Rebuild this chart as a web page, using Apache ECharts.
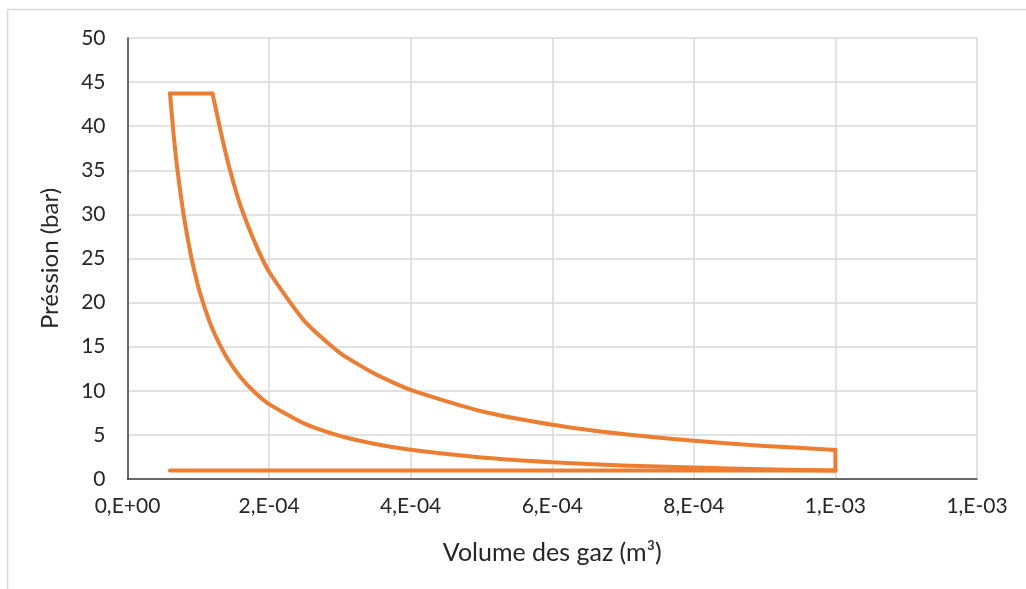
<!DOCTYPE html>
<html>
<head>
<meta charset="utf-8">
<script src="https://cdn.jsdelivr.net/npm/echarts@6/dist/echarts.min.js"></script>
<style>
html,body{margin:0;padding:0;background:#fff;}
#chart{width:1026px;height:589px;}
</style>
</head>
<body>
<div id="chart"></div>
<script>
// Intake / exhaust line (m³, bar)
const lowLineVolume = [6.0e-5, 1.0e-3];
const lowLinePressure = [0.95, 0.95];
// Compression curve, from bottom dead centre to top dead centre
const compVolume = [1.0e-3, 9e-4, 8e-4, 7e-4, 6e-4, 5e-4, 4e-4, 3.5e-4, 3e-4, 2.5e-4, 2e-4, 1.8e-4, 1.6e-4, 1.4e-4, 1.2e-4, 1.1e-4, 1.0e-4, 9e-5, 8e-5, 7e-5, 6.5e-5, 6.0e-5];
const compPressure = [0.95, 1.10, 1.29, 1.54, 1.90, 2.44, 3.31, 3.97, 4.89, 6.27, 8.49, 9.80, 11.5, 13.8, 17.0, 19.2, 21.8, 25.2, 29.6, 35.4, 39.2, 43.7];
// Combustion at constant pressure
const topVolume = [6.0e-5, 1.2e-4];
const topPressure = [43.7, 43.7];
// Expansion curve
const expVolume = [1.2e-4, 1.25e-4, 1.3e-4, 1.4e-4, 1.5e-4, 1.6e-4, 1.8e-4, 2e-4, 2.5e-4, 3e-4, 3.5e-4, 4e-4, 5e-4, 6e-4, 7e-4, 8e-4, 9e-4, 1.0e-3];
const expPressure = [43.7, 41.9, 40.0, 36.5, 33.5, 30.9, 26.8, 23.5, 17.9, 14.3, 11.9, 10.1, 7.68, 6.15, 5.09, 4.33, 3.75, 3.3];
// Exhaust blow-down at bottom dead centre
const blowVolume = [1.0e-3, 1.0e-3];
const blowPressure = [3.3, 0.95];

const xTickLabels = ['0,E+00', '2,E-04', '4,E-04', '6,E-04', '8,E-04', '1,E-03', '1,E-03'];
const yTickLabels = ['0', '5', '10', '15', '20', '25', '30', '35', '40', '45', '50'];

function pairs(xs, ys) { return xs.map((v, i) => [v, ys[i]]); }

const font = 'Lato, "Open Sans", sans-serif';
const lineStyle = {color: '#ED7D31', width: 4, cap: 'round', join: 'round'};
function seg(data, smooth) {
  return {type: 'line', data: data, showSymbol: false, smooth: smooth,
          lineStyle: lineStyle, clip: false, color: '#ED7D31'};
}

const chart = echarts.init(document.getElementById('chart'), null, {renderer: 'canvas'});
chart.setOption({
  backgroundColor: '#ffffff',
  animation: false,
  graphic: [{
    type: 'rect',
    shape: {x: 7.5, y: 9.5, width: 1040, height: 600},
    style: {fill: 'none', stroke: '#d9d9d9', lineWidth: 1.5},
    silent: true
  }],
  grid: {left: 127.5, right: 49, top: 38, bottom: 110, containLabel: false},
  xAxis: {
    type: 'value',
    min: 0, max: 0.0012, interval: 0.0002,
    name: 'Volume des gaz (m³)',
    nameLocation: 'middle',
    nameGap: 61,
    nameTextStyle: {fontFamily: font, fontSize: 25, color: '#262626'},
    axisLine: {show: true, lineStyle: {color: '#404040', width: 1.5}},
    axisTick: {show: false},
    axisLabel: {
      margin: 17,
      fontFamily: font, fontSize: 21, color: '#262626',
      formatter: function (v) { return xTickLabels[Math.round(v / 0.0002)]; }
    },
    splitLine: {show: true, lineStyle: {color: '#d9d9d9', width: 1.5}}
  },
  yAxis: {
    type: 'value',
    min: 0, max: 50, interval: 5,
    name: 'Préssion (bar)',
    nameLocation: 'middle',
    nameGap: 65,
    nameRotate: 90,
    nameTextStyle: {fontFamily: font, fontSize: 24, color: '#262626'},
    axisLine: {show: true, lineStyle: {color: '#404040', width: 1.5}},
    axisTick: {show: false},
    axisLabel: {
      margin: 22,
      fontFamily: font, fontSize: 21, color: '#262626',
      formatter: function (v) { return yTickLabels[Math.round(v / 5)]; }
    },
    splitLine: {show: true, lineStyle: {color: '#d9d9d9', width: 1.5}}
  },
  series: [
    seg(pairs(lowLineVolume, lowLinePressure), false),
    seg(pairs(compVolume, compPressure), 0.2),
    seg(pairs(topVolume, topPressure), false),
    seg(pairs(expVolume, expPressure), 0.2),
    seg(pairs(blowVolume, blowPressure), false)
  ]
});
</script>
</body>
</html>
